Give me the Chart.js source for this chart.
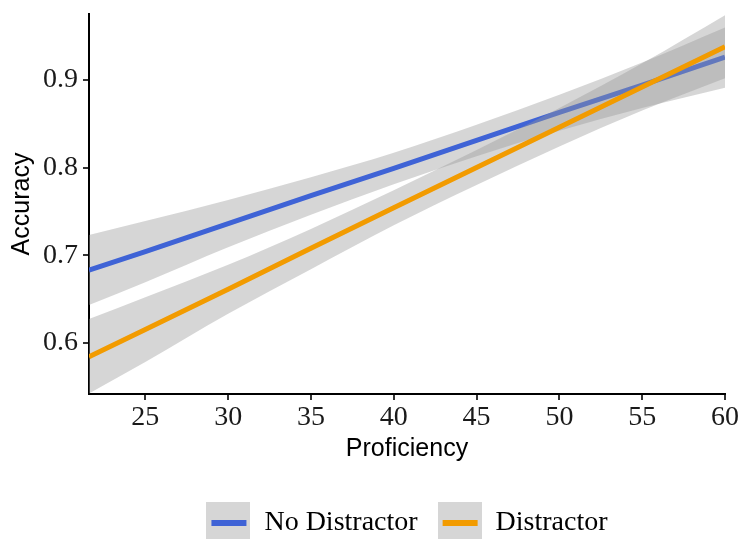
<!DOCTYPE html>
<html>
<head>
<meta charset="utf-8">
<script src="https://cdn.jsdelivr.net/npm/chart.js@4.4.1/dist/chart.umd.min.js"></script>
<style>
  html, body { margin: 0; padding: 0; background: #fff; }
  #wrap { width: 740px; height: 539px; }
</style>
</head>
<body>
<div id="wrap"><canvas id="myChart" width="740" height="539"></canvas></div>
<script>
// valores
const proficiency = [21.6, 25, 30, 35, 40, 45, 50, 55, 60];

const noDistractorFit   = [0.683, 0.704, 0.736, 0.768, 0.799, 0.831, 0.863, 0.894, 0.926];
const noDistractorUpper = [0.723, 0.739, 0.763, 0.789, 0.817, 0.849, 0.883, 0.920, 0.960];
const noDistractorLower = [0.643, 0.669, 0.709, 0.746, 0.781, 0.813, 0.842, 0.868, 0.891];

const distractorFit   = [0.584, 0.615, 0.661, 0.708, 0.754, 0.800, 0.846, 0.892, 0.938];
const distractorUpper = [0.627, 0.652, 0.689, 0.730, 0.774, 0.820, 0.868, 0.919, 0.974];
const distractorLower = [0.542, 0.578, 0.633, 0.684, 0.734, 0.780, 0.824, 0.865, 0.902];

const xTicks = [25, 30, 35, 40, 45, 50, 55, 60];
const yTicks = [0.6, 0.7, 0.8, 0.9];

const colorNoDistractor = "#3F63D6";
const colorDistractor = "#F29B00";
const ribbon = "rgba(153,153,153,0.4)";

function puntos(valores) {
  return proficiency.map((x, i) => ({ x: x, y: valores[i] }));
}

function crearLlave(color) {
  const c = document.createElement("canvas");
  c.width = 44;
  c.height = 42;
  const ctx = c.getContext("2d");
  ctx.fillStyle = "#D6D6D6";
  ctx.fillRect(0, 0, 44, 42);
  ctx.strokeStyle = color;
  ctx.lineWidth = 6;
  ctx.beginPath();
  ctx.moveTo(5, 21);
  ctx.lineTo(40, 21);
  ctx.stroke();
  return c;
}

const banda = { borderWidth: 0, pointRadius: 0, backgroundColor: ribbon, cubicInterpolationMode: "monotone" };

const ctx = document.querySelector("#myChart").getContext("2d");

const myChart = new Chart(ctx, {
  type: "line",
  data: {
    datasets: [
      Object.assign({ label: "nd_upper", data: puntos(noDistractorUpper), fill: "+1", order: 4 }, banda),
      Object.assign({ label: "nd_lower", data: puntos(noDistractorLower), fill: false, order: 4 }, banda),
      {
        label: "No Distractor",
        data: puntos(noDistractorFit),
        borderColor: colorNoDistractor,
        borderWidth: 5,
        pointRadius: 0,
        fill: false,
        order: 3,
      },
      Object.assign({ label: "d_upper", data: puntos(distractorUpper), fill: "+1", order: 2 }, banda),
      Object.assign({ label: "d_lower", data: puntos(distractorLower), fill: false, order: 2 }, banda),
      {
        label: "Distractor",
        data: puntos(distractorFit),
        borderColor: colorDistractor,
        borderWidth: 5,
        pointRadius: 0,
        fill: false,
        order: 1,
      },
    ],
  },
  options: {
    responsive: false,
    animation: false,
    events: [],
    layout: { padding: { top: 14, right: 15, left: 0, bottom: -8 } },
    plugins: {
      tooltip: { enabled: false },
      legend: {
        position: "bottom",
        fullSize: false,
        labels: {
          usePointStyle: true,
          pointStyleWidth: 44,
          padding: 20,
          color: "#000",
          font: { family: "Liberation Serif", size: 28 },
          generateLabels: function () {
            return [
              { text: "No Distractor", pointStyle: crearLlave(colorNoDistractor), fillStyle: ribbon, strokeStyle: colorNoDistractor, lineWidth: 0, fontColor: "#000", datasetIndex: 2 },
              { text: "Distractor", pointStyle: crearLlave(colorDistractor), fillStyle: ribbon, strokeStyle: colorDistractor, lineWidth: 0, fontColor: "#000", datasetIndex: 5 },
            ];
          },
        },
      },
    },
    scales: {
      x: {
        type: "linear",
        min: 21.6,
        max: 60,
        afterBuildTicks: (s) => { s.ticks = xTicks.map((v) => ({ value: v })); },
        afterFit: (s) => { s.height = 95; s.paddingLeft = 0; s.paddingRight = 0; },
        grid: { drawOnChartArea: false, drawTicks: true, tickLength: 6, color: "#333", lineWidth: 2 },
        border: { display: true, color: "#000", width: 2 },
        ticks: { color: "#1a1a1a", padding: 1, font: { family: "Liberation Serif", size: 28 }, callback: (v) => v },
        title: { display: true, text: "Proficiency", color: "#000", font: { family: "Liberation Sans", size: 25 }, padding: { top: 0, bottom: 25 } },
      },
      y: {
        type: "linear",
        min: 0.5415,
        max: 0.9753,
        afterBuildTicks: (s) => { s.ticks = yTicks.map((v) => ({ value: v })); },
        afterFit: (s) => { s.width = 89; s.paddingTop = 0; s.paddingBottom = 0; },
        grid: { drawOnChartArea: false, drawTicks: true, tickLength: 6, color: "#333", lineWidth: 2 },
        border: { display: true, color: "#000", width: 2 },
        ticks: { color: "#1a1a1a", padding: 5, font: { family: "Liberation Serif", size: 28 }, callback: (v) => v.toFixed(1) },
        title: { display: true, text: "Accuracy", color: "#000", font: { family: "Liberation Sans", size: 25 }, padding: { top: 7, bottom: 0 } },
      },
    },
  },
});
</script>
</body>
</html>
